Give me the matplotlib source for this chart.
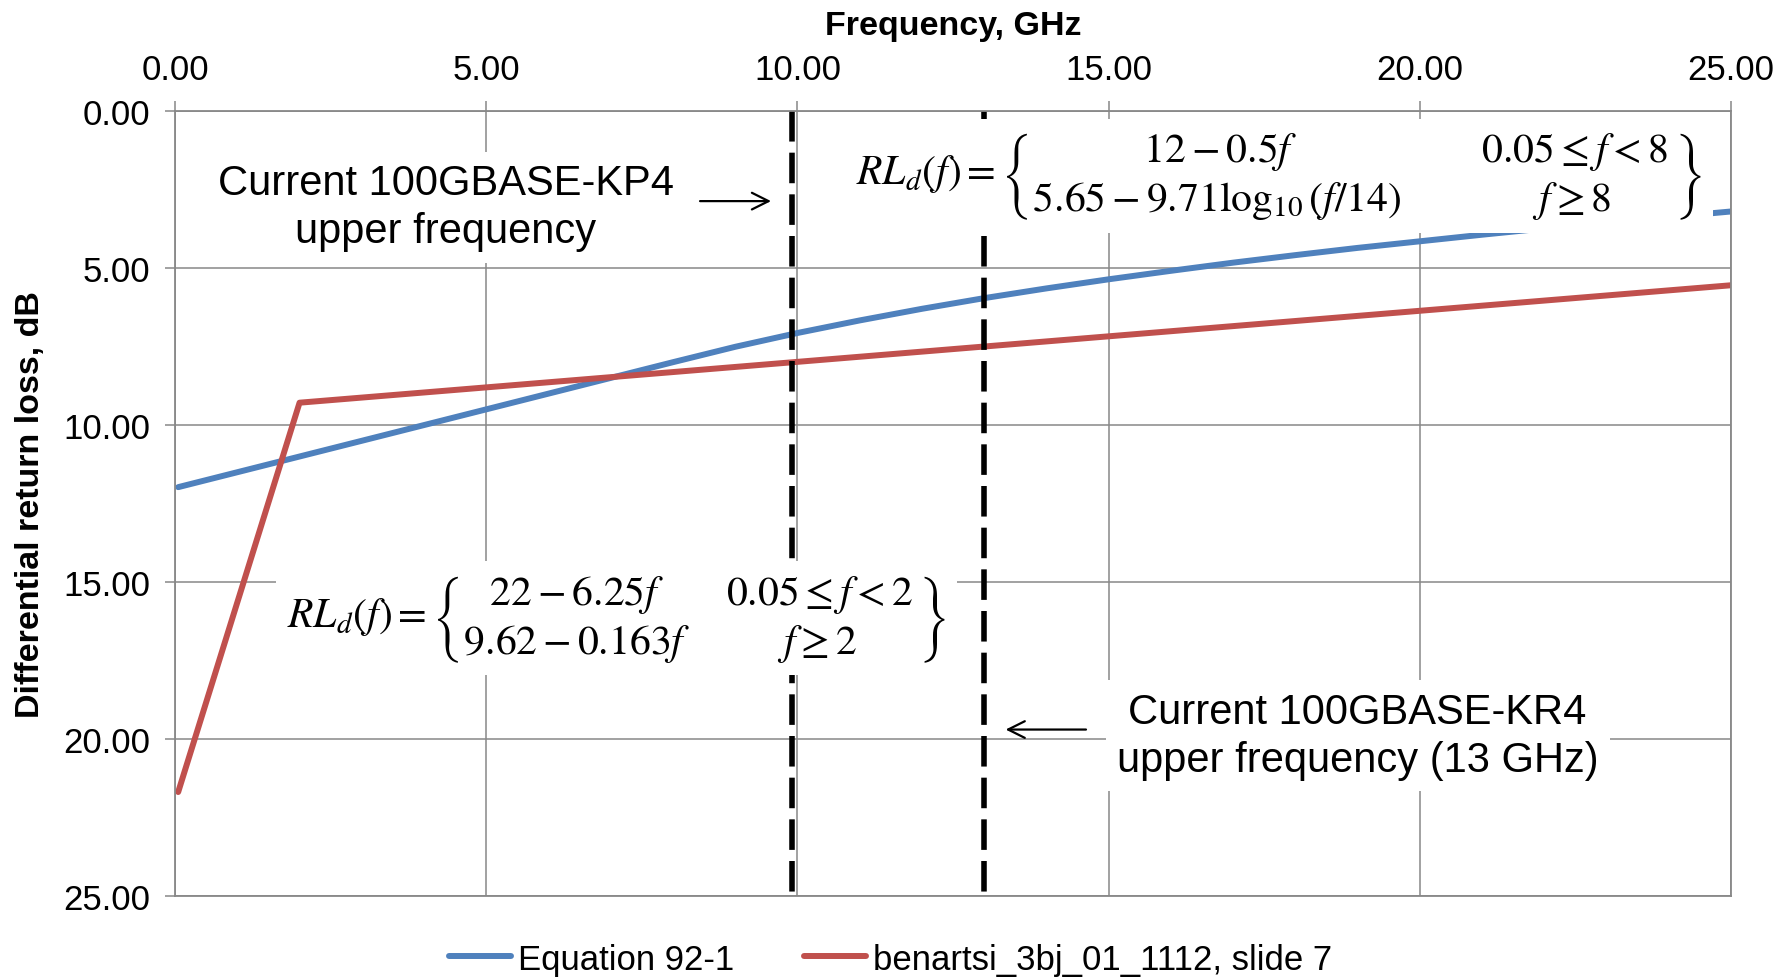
import matplotlib
matplotlib.use("Agg")
import matplotlib.pyplot as plt
import numpy as np

plt.rcParams['font.family'] = ['Liberation Sans', 'DejaVu Sans']

# Equation 92-1 (blue)
eq_freq = [0.05, 8, 9, 10, 11, 12, 13, 14, 15, 16, 17, 18, 19, 20, 21, 22, 23, 24, 25]
eq_rl = [11.98, 8.0, 7.51, 7.07, 6.67, 6.30, 5.96, 5.65, 5.36, 5.09, 4.83,
         4.59, 4.36, 4.15, 3.94, 3.74, 3.56, 3.38, 3.20]

# benartsi_3bj_01_1112, slide 7 (red)
ben_freq = [0.05, 2, 25]
ben_rl = [21.69, 9.29, 5.55]

# upper frequency markers
kp4_freq = 9.92
kr4_freq = 13.0

x_ticks = [0, 5, 10, 15, 20, 25]
y_ticks = [0, 5, 10, 15, 20, 25]

BLUE = "#4F81BD"
RED = "#C0504D"
GRID = "#888888"

fig = plt.figure(figsize=(17.92, 9.79), dpi=100)
ax = fig.add_axes([0.0977, 0.0838, 0.8683, 0.8018])

ax.plot(eq_freq, eq_rl, color=BLUE, lw=4.3, solid_capstyle="round", label="Equation 92-1", zorder=2)
ax.plot(ben_freq, ben_rl, color=RED, lw=4.3, solid_capstyle="round",
        label="benartsi_3bj_01_1112, slide 7", zorder=2)

for xf in (kp4_freq, kr4_freq):
    ax.plot([xf, xf], [0, 25], color="black", lw=4.0, dashes=(5.5, 2.0), zorder=2.5)

ax.set_xlim(0, 25)
ax.set_ylim(25, 0)
ax.set_xticks(x_ticks)
ax.set_yticks(y_ticks)
ax.xaxis.set_major_formatter(matplotlib.ticker.FormatStrFormatter("%.2f"))
ax.yaxis.set_major_formatter(matplotlib.ticker.FormatStrFormatter("%.2f"))
ax.xaxis.tick_top()
ax.xaxis.set_label_position("top")
ax.tick_params(axis="both", direction="out", length=7, width=1.1, color=GRID,
               labelsize=25, pad=11)
ax.grid(True, color=GRID, lw=1.1)
ax.set_axisbelow(True)
for sp in ax.spines.values():
    sp.set_color(GRID)
    sp.set_linewidth(1.3)

ax.set_xlabel("Frequency, GHz", fontsize=24.5, fontweight="bold", labelpad=14)
ax.set_ylabel("Differential return loss, dB", fontsize=24.5, fontweight="bold", labelpad=12)

white_box = dict(facecolor="white", edgecolor="none", pad=8)

# formulas
blue_eq = (r"$RL_d(f) = \left\{\genfrac{}{}{0}{0}{12 - 0.5f}{5.65 - 9.71\log_{10}(f/14)}"
           r"\qquad\enspace\genfrac{}{}{0}{0}{0.05 \leq f < 8}{f \geq 8}\right\}$")
red_eq = (r"$RL_d(f) = \left\{\genfrac{}{}{0}{0}{22 - 6.25f}{9.62 - 0.163f}"
          r"\quad\;\genfrac{}{}{0}{0}{0.05 \leq f < 2}{f \geq 2}\right\}$")
ax.text(17.74, 2.07, blue_eq, fontsize=30, math_fontfamily="stix", ha="center", va="center",
        bbox=white_box, zorder=4)
ax.text(7.09, 16.15, red_eq, fontsize=30, math_fontfamily="stix", ha="center", va="center",
        bbox=white_box, zorder=4)

# annotations
ax.text(4.35, 3.06, "Current 100GBASE-KP4\nupper frequency", fontsize=30, ha="center",
        va="center", linespacing=1.27, bbox=white_box, zorder=4)
ax.annotate("", xy=(9.62, 2.87), xytext=(8.39, 2.87),
            arrowprops=dict(arrowstyle="->", lw=1.6, color="black", mutation_scale=30), zorder=4)

ax.text(19.0, 19.9, "Current 100GBASE-KR4\nupper frequency (13 GHz)", fontsize=30, ha="center",
        va="center", linespacing=1.27, bbox=white_box, zorder=4)
ax.annotate("", xy=(13.30, 19.7), xytext=(14.68, 19.7),
            arrowprops=dict(arrowstyle="->", lw=1.6, color="black", mutation_scale=30), zorder=4)

fig.legend(loc="center", bbox_to_anchor=(0.497, 0.0194), ncol=2, frameon=False, fontsize=25,
           handlelength=1.8, handletextpad=0.2, columnspacing=2.0)

fig.savefig("out.png", dpi=100)
